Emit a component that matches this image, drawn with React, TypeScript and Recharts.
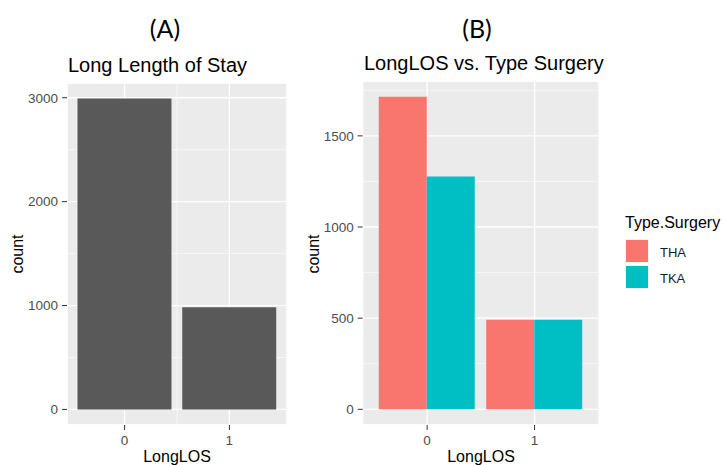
import React from 'react';
import { BarChart, Bar, XAxis, YAxis, CartesianGrid } from 'recharts';

// LongLOS levels and counts
const losLevels = ['0', '1'];
const losCounts = [2992, 984];

// counts split by surgery type
const surgeryTypes = ['THA', 'TKA'];
const thaCounts = [1715, 492];
const tkaCounts = [1277, 492];
const surgeryColors = ['#F8766D', '#00BFC4'];

const countTicksA = [0, 1000, 2000, 3000];
const minorTicksA = [500, 1500, 2500];
const countTicksB = [0, 500, 1000, 1500];
const minorTicksB = [250, 750, 1250, 1750];
const minorLosTicks = [-0.5, 0.5, 1.5];

const stayData = losLevels.map((level, i) => ({ level, count: losCounts[i] }));
const surgeryData = losLevels.map((level, i) => ({ level, THA: thaCounts[i], TKA: tkaCounts[i] }));

const font = '"Liberation Sans", Arial, sans-serif';
const panelBg = '#EBEBEB';
const tickText = { fill: '#4D4D4D', fontSize: 13.5, fontFamily: font };
const tickLine = { stroke: '#333333' };

const abs = (left: number, top: number, extra: React.CSSProperties = {}): React.CSSProperties => ({
  position: 'absolute',
  left,
  top,
  whiteSpace: 'nowrap',
  ...extra,
});

const centered = 'translate(-50%, -50%)';

export default function App() {
  return (
    <div style={{ position: 'absolute', left: 0, top: 0, width: 724, height: 465, background: '#fff', overflow: 'hidden', fontFamily: font, color: '#000' }}>
      {/* panel labels */}
      <div style={abs(165, 28, { transform: centered, fontFamily: 'Lato, sans-serif', fontSize: 25 })}>(A)</div>
      <div style={abs(477, 28, { transform: centered, fontFamily: 'Lato, sans-serif', fontSize: 25 })}>(B)</div>

      {/* plot titles */}
      <div style={abs(68, 65, { transform: 'translateY(-50%)', fontSize: 20 })}>Long Length of Stay</div>
      <div style={abs(364, 63, { transform: 'translateY(-50%)', fontSize: 20 })}>LongLOS vs. Type Surgery</div>

      {/* (A) total counts */}
      <div style={abs(0, 0)}>
        <BarChart width={300} height={465} data={stayData} margin={{ top: 83, right: 13, bottom: 0, left: 0 }} barCategoryGap="5%">
          <XAxis xAxisId="minor" type="number" domain={[-0.55, 1.55]} ticks={minorLosTicks} allowDataOverflow hide />
          <YAxis yAxisId="minor" domain={[-150, 3142]} ticks={minorTicksA} allowDataOverflow hide />
          <CartesianGrid xAxisId="minor" yAxisId="minor" fill={panelBg} fillOpacity={1} stroke="#fff" strokeWidth={0.6} />
          <CartesianGrid stroke="#fff" strokeWidth={1.3} />
          <XAxis dataKey="level" padding={{ left: 5.24, right: 5.24 }} height={40} interval={0}
            axisLine={false} tickSize={5} tickMargin={5} tickLine={tickLine} tick={tickText} />
          <YAxis domain={[-150, 3142]} ticks={countTicksA} width={67} allowDataOverflow
            axisLine={false} tickSize={5} tickMargin={4} tickLine={tickLine} tick={tickText} />
          <Bar dataKey="count" fill="#595959" isAnimationActive={false} />
        </BarChart>
      </div>

      {/* (B) counts by surgery type */}
      <div style={abs(300, 0)}>
        <BarChart width={424} height={465} data={surgeryData} margin={{ top: 81, right: 125, bottom: 0, left: 0 }} barCategoryGap="5%" barGap={0}>
          <YAxis yAxisId="minor" domain={[-86, 1801]} ticks={minorTicksB} allowDataOverflow hide />
          <CartesianGrid yAxisId="minor" vertical={false} fill={panelBg} fillOpacity={1} stroke="#fff" strokeWidth={0.6} />
          <CartesianGrid stroke="#fff" strokeWidth={1.3} />
          <XAxis dataKey="level" padding={{ left: 10.7, right: 10.7 }} height={40} interval={0}
            axisLine={false} tickSize={5} tickMargin={5} tickLine={tickLine} tick={tickText} />
          <YAxis domain={[-86, 1801]} ticks={countTicksB} width={62.7} allowDataOverflow
            axisLine={false} tickSize={5} tickMargin={4} tickLine={tickLine} tick={tickText} />
          {surgeryTypes.map((s, i) => (
            <Bar key={s} dataKey={s} fill={surgeryColors[i]} isAnimationActive={false} />
          ))}
        </BarChart>
      </div>

      {/* axis titles */}
      <div style={abs(18, 254, { transform: `${centered} rotate(-90deg)`, fontSize: 16 })}>count</div>
      <div style={abs(314, 254, { transform: `${centered} rotate(-90deg)`, fontSize: 16 })}>count</div>
      <div style={abs(177, 457, { transform: centered, fontSize: 16 })}>LongLOS</div>
      <div style={abs(481, 457, { transform: centered, fontSize: 16 })}>LongLOS</div>

      {/* legend */}
      <div style={abs(625, 223, { transform: 'translateY(-50%)', fontSize: 16 })}>Type.Surgery</div>
      {surgeryTypes.map((s, i) => (
        <React.Fragment key={s}>
          <div style={abs(625, 239 + i * 26, { width: 24, height: 24, background: surgeryColors[i], border: '1px solid #F2F2F2', boxSizing: 'border-box' })} />
          <div style={abs(660, 252 + i * 26, { transform: 'translateY(-50%)', fontSize: 13, color: '#1A1A1A' })}>{s}</div>
        </React.Fragment>
      ))}
    </div>
  );
}
